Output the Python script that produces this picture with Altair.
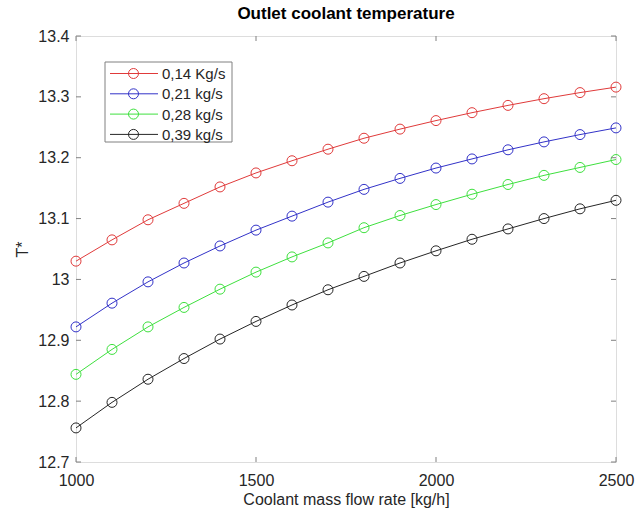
import altair as alt
import pandas as pd

# ---------------- data ----------------
flow_rate = [1000, 1100, 1200, 1300, 1400, 1500, 1600, 1700,
             1800, 1900, 2000, 2100, 2200, 2300, 2400, 2500]

series_names = ["0,14 Kg/s", "0,21 kg/s", "0,28 kg/s", "0,39 kg/s"]
series_colors = ["#e03a3a", "#3232c8", "#3ee03e", "#262626"]

t_014 = [13.030, 13.065, 13.098, 13.125, 13.152, 13.175, 13.195, 13.214,
         13.232, 13.247, 13.261, 13.274, 13.286, 13.297, 13.307, 13.316]
t_021 = [12.922, 12.961, 12.996, 13.027, 13.055, 13.081, 13.104, 13.127,
         13.148, 13.166, 13.183, 13.198, 13.213, 13.226, 13.238, 13.249]
t_028 = [12.844, 12.885, 12.922, 12.954, 12.984, 13.012, 13.037, 13.060,
         13.085, 13.105, 13.123, 13.140, 13.156, 13.171, 13.184, 13.197]
t_039 = [12.756, 12.798, 12.836, 12.870, 12.902, 12.931, 12.958, 12.983,
         13.005, 13.027, 13.047, 13.066, 13.083, 13.100, 13.116, 13.130]

x_ticks = [1000, 1500, 2000, 2500]
y_ticks = [12.7, 12.8, 12.9, 13.0, 13.1, 13.2, 13.3, 13.4]

title_text = "Outlet coolant temperature"
x_title = "Coolant mass flow rate [kg/h]"
y_title = "T*"

# ---------------- layout / style ----------------
FONT = "Liberation Sans"
PW, PH = 540, 426
AX = "#808080"
TXT = "#262626"

rows = []
for name, vals in zip(series_names, [t_014, t_021, t_028, t_039]):
    for x, v in zip(flow_rate, vals):
        rows.append({"flow": x, "T": v, "series": name})
df = pd.DataFrame(rows)

xs = alt.Scale(domain=[1000, 2500], nice=False, zero=False)
ys = alt.Scale(domain=[12.7, 13.4], nice=False, zero=False)

x_axis = alt.Axis(values=x_ticks, format="d", title=x_title, ticks=False, domain=False,
                  grid=False, labelFontSize=16, labelFont=FONT, labelColor=TXT,
                  labelPadding=10, labelFlush=False, labelOverlap=False,
                  titleFontSize=16, titleFont=FONT, titleColor=TXT,
                  titleFontWeight="normal", titlePadding=3)
y_axis = alt.Axis(values=y_ticks, format=".1~f", title=y_title, ticks=False, domain=False,
                  grid=False, labelFontSize=16, labelFont=FONT, labelColor=TXT,
                  labelPadding=7, labelFlush=False, labelOverlap=False,
                  titleFontSize=16, titleFont=FONT, titleColor=TXT,
                  titleFontWeight="normal", titlePadding=7)

x_enc = alt.X("flow:Q", scale=xs, axis=x_axis)
y_enc = alt.Y("T:Q", scale=ys, axis=y_axis)
color = alt.Color("series:N", scale=alt.Scale(domain=series_names, range=series_colors),
                  legend=None)

base = alt.Chart(df).encode(x=x_enc, y=y_enc, color=color)
lines = base.mark_line(strokeWidth=1)
points = base.mark_point(shape="circle", filled=False, size=100, strokeWidth=1, opacity=1)

xt = pd.DataFrame({"flow": x_ticks})
yt = pd.DataFrame({"T": y_ticks})
tick_len = 5
bottom_ticks = alt.Chart(xt).mark_rule(color=AX, strokeWidth=1).encode(
    x=x_enc, y=alt.value(PH - tick_len), y2=alt.value(PH))
top_ticks = alt.Chart(xt).mark_rule(color=AX, strokeWidth=1).encode(
    x=x_enc, y=alt.value(0), y2=alt.value(tick_len))
left_ticks = alt.Chart(yt).mark_rule(color=AX, strokeWidth=1).encode(
    y=y_enc, x=alt.value(0), x2=alt.value(tick_len))
right_ticks = alt.Chart(yt).mark_rule(color=AX, strokeWidth=1).encode(
    y=y_enc, x=alt.value(PW - tick_len), x2=alt.value(PW))

# manual legend (MATLAB style: line with circle marker)
one = pd.DataFrame({"k": [0]})
legend_layers = [
    alt.Chart(one).mark_rect(fill="white", stroke=AX, strokeWidth=1).encode(
        x=alt.value(29), x2=alt.value(156), y=alt.value(26), y2=alt.value(106))
]
for i, (name, col) in enumerate(zip(series_names, series_colors)):
    yy = 37.5 + 20.3 * i
    legend_layers.append(alt.Chart(one).mark_rule(color=col, strokeWidth=1).encode(
        x=alt.value(34), x2=alt.value(82), y=alt.value(yy)))
    legend_layers.append(alt.Chart(one).mark_point(shape="circle", filled=False, size=100,
                                                   strokeWidth=1, color=col, opacity=1).encode(
        x=alt.value(57.5), y=alt.value(yy)))
    legend_layers.append(alt.Chart(one).mark_text(text=name, align="left", baseline="middle",
                                                  font=FONT, fontSize=15, color=TXT).encode(
        x=alt.value(86), y=alt.value(yy + 0.5)))

chart = alt.layer(
    lines, points, bottom_ticks, top_ticks, left_ticks, right_ticks, *legend_layers
).properties(
    width=PW, height=PH,
    title=alt.TitleParams(title_text, font=FONT, fontSize=17, fontWeight="bold",
                          color="black", anchor="middle", offset=5),
    padding={"left": 76, "top": 36, "right": 19, "bottom": 53},
    autosize="none",
).configure_view(stroke=AX, strokeWidth=1).configure(background="white")

chart.save("out.html", embed_options={"renderer": "svg", "actions": False})
